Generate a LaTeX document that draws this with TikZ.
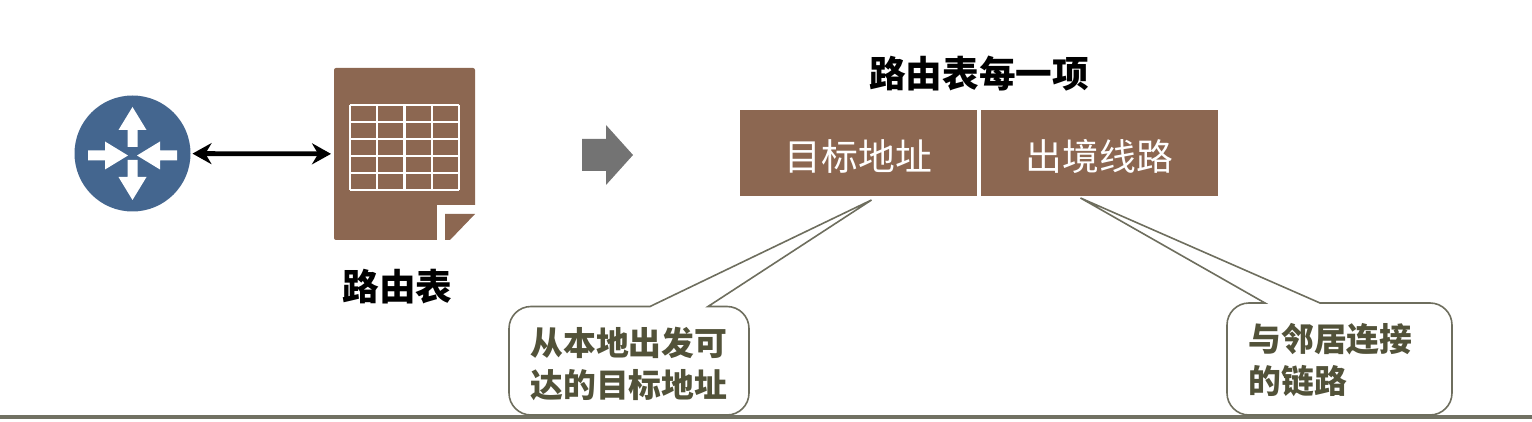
\documentclass[tikz,border=0pt]{standalone}
\usepackage{fontspec}
\setmainfont{Noto Sans CJK SC}
\usetikzlibrary{arrows.meta,positioning}
\definecolor{brownfill}{HTML}{8C6751}
\definecolor{routerblue}{HTML}{44668F}
\definecolor{notegreen}{HTML}{6E6E5E}
\definecolor{notetext}{HTML}{525239}

\begin{document}
\begin{tikzpicture}[
        x=0.5pt, y=-0.5pt,
        fieldbox/.style={fill=brownfill, text=white, minimum width=118.5pt, minimum height=43pt,
                    inner sep=0pt, text height=19pt, text depth=1pt, font=\fontsize{18.4}{22}\selectfont},
        heading/.style={inner sep=0pt, font=\fontsize{18.3}{22}\selectfont\bfseries},
        notebox/.style={draw=notegreen, fill=white, line width=0.8pt},
        notelabel/.style={anchor=west, inner sep=0pt, align=left, text=notetext,
                    font=\fontsize{16.4}{21}\selectfont\bfseries},
        routerarrow/.style={fill=white}
    ]
        \useasboundingbox (0,0) rectangle (1532,422);
        \draw[notegreen!85!gray, line width=2pt] (0,416.5) -- (1532,416.5);

        \node[circle, fill=routerblue, minimum size=58pt, inner sep=0pt, outer sep=1pt] (router) at (132.5,153.5) {};
        \foreach \tipx/\tipy/\ang in {132.5/107/90, 132.5/200/-90, 128/155.5/0, 137/155.5/180}
            \fill[routerarrow, shift={(\tipx,\tipy)}, rotate=\ang]
                (0,0) -- (-23,14) -- (-23,5) -- (-40,5) -- (-40,-5) -- (-23,-5) -- (-23,-14) -- cycle;

        \node[fill=brownfill, minimum width=70.5pt, minimum height=86pt, inner sep=0pt, outer sep=1.5pt,
              rounded corners=1pt] (rtable) at (404.5,154) {};
        \fill[white] (437,205) rectangle (477,242);
        \fill[brownfill] (445,214) -- (475,214) -- (450,240) -- (445,240) -- cycle;
        \foreach \colx in {350,377.25,404.5,431.75,459}
            \draw[white, line width=1.2pt] (\colx,105) -- (\colx,190);
        \foreach \rowy in {105,122,139,156,173,190}
            \draw[white, line width=1.2pt] (350,\rowy) -- (459,\rowy);
        \node[heading, below=13pt of rtable, xshift=-3.5pt] (rtablelabel) {路由表};

        \draw[{Stealth[length=9.5pt,width=10.5pt]}-{Stealth[length=9.5pt,width=10.5pt]}, line width=2.4pt] (router) -- (rtable);

        \fill[black!55] (582,139) -- (606,139) -- (606,125) -- (633,155) -- (606,185) -- (606,171) -- (582,171) -- cycle;

        \node[fieldbox] (dest) at (858.5,153) {目标地址};
        \node[fieldbox, right=1.5pt of dest] (port) {出境线路};
        \node[heading] (title) at (979,74) {路由表每一项};

        \coordinate (desttip) at (871.5,200);
        \coordinate (porttip) at (1080.5,198);

        \draw[notebox, rounded corners=11pt] (708,306.5) -- (749,306.5) -- (749,415) -- (509,415)
            [sharp corners] -- (509,328.5) .. controls (509,316.4) and (518.8,306.5) .. (531,306.5) -- (650,306.5) -- (desttip) -- cycle;
        \node[notelabel] (destnote) at (530,364) {从本地出发可\\达的目标地址};

        \draw[notebox, rounded corners=11pt] (1320,303) -- (1452,303) -- (1452,415) -- (1227,415)
            [sharp corners] -- (1227,325) .. controls (1227,312.9) and (1236.9,303) .. (1249,303) -- (1265,303) -- (porttip) -- cycle;
        \node[notelabel] (portnote) at (1248,360) {与邻居连接\\的链路};
    \end{tikzpicture}
\end{document}
